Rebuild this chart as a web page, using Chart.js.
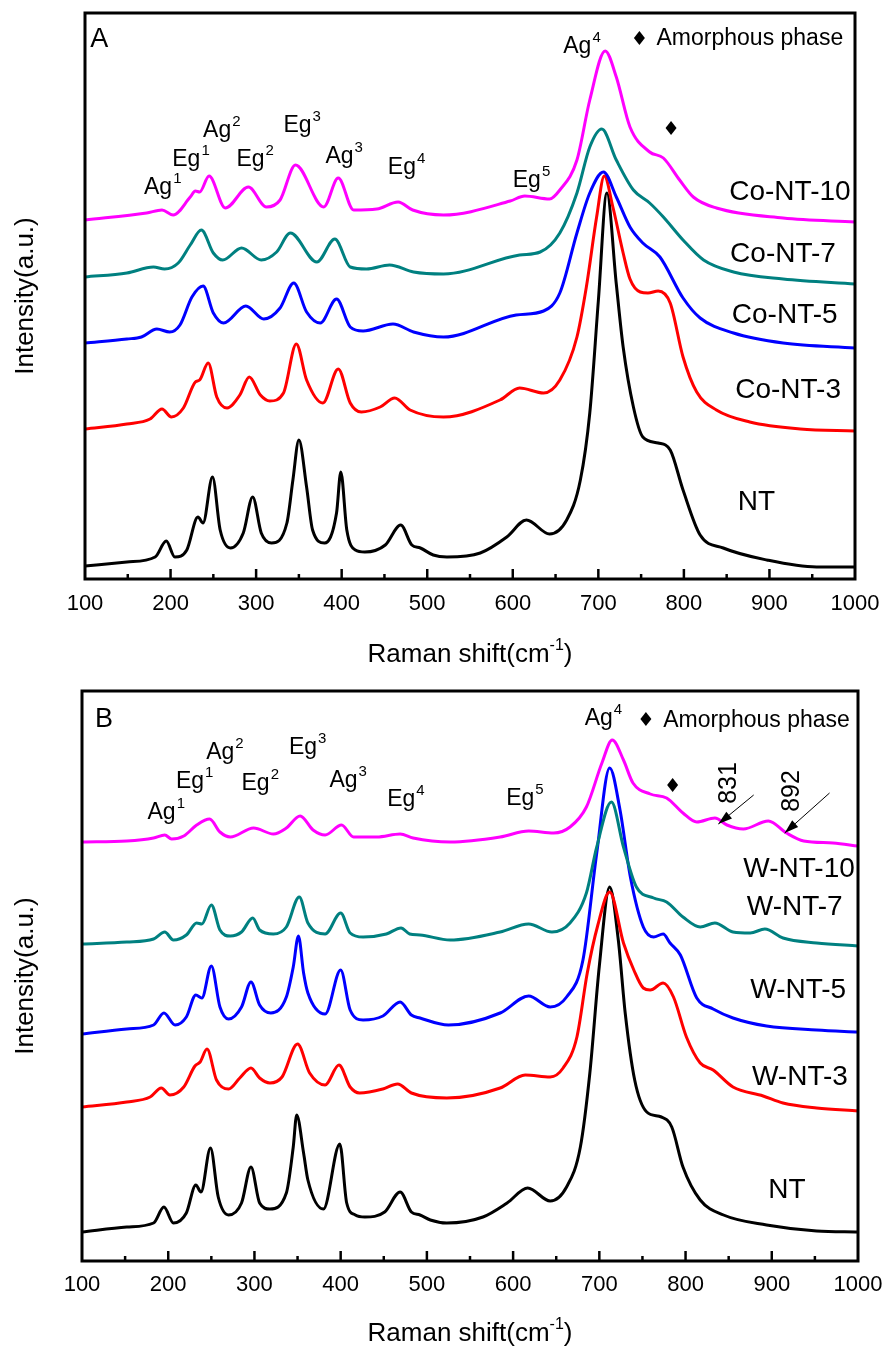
<!DOCTYPE html>
<html>
<head>
<meta charset="utf-8">
<script src="https://cdn.jsdelivr.net/npm/chart.js@4.4.0/dist/chart.umd.min.js"></script>
<style>
  body { margin: 0; background: #fff; }
  .panel { position: absolute; left: 0; width: 887px; height: 674px; }
</style>
</head>
<body>
<div class="panel" style="top:0"><canvas id="chartA" width="887" height="674"></canvas></div>
<div class="panel" style="top:674px"><canvas id="chartB" width="887" height="674"></canvas></div>
<script>
// Raman shift (cm-1) vs intensity (a.u., stacked offsets as drawn)

// panel A
const ntA = [[100,13],[149,17],[182,22],[195,38],[205,22],[219,29],[232,62],[238,56],[249,102],[258,49],[270,31],[285,46],[296,82],[306,46],[318,36],[336,56],[343,99],[350,139],[359,92],[366,49],[380,36],[394,66],[399,107],[406,49],[416,29],[427,27],[451,34],[469,54],[482,34],[492,31],[507,24],[523,22],[562,26],[593,42],[616,59],[643,45],[663,59],[679,99],[690,166],[700,278],[710,386],[721,295],[729,232],[741,172],[752,142],[770,136],[784,129],[799,89],[819,44],[846,31],[897,19],[955,12],[1000,12]];
const coNT3 = [[100,150],[149,155],[176,160],[190,170],[201,162],[215,171],[229,197],[234,199],[244,216],[254,182],[266,171],[281,184],[292,202],[305,184],[316,178],[332,186],[347,235],[359,199],[378,176],[396,210],[410,176],[423,167],[445,172],[462,181],[480,169],[519,162],[585,179],[608,191],[636,186],[655,199],[675,242],[686,292],[698,362],[707,403],[717,372],[729,326],[737,300],[749,287],[758,286],[770,288],[784,276],[799,222],[815,187],[838,169],[877,157],[936,150],[1000,148]];
const coNT5 = [[100,236],[149,240],[166,242],[184,250],[199,247],[211,254],[225,282],[238,293],[250,266],[262,256],[288,273],[309,260],[328,271],[344,296],[359,267],[375,256],[394,280],[410,252],[425,248],[460,255],[484,247],[519,242],[604,264],[636,268],[655,286],[675,346],[690,386],[706,407],[721,382],[737,352],[752,336],[772,322],[799,281],[819,261],[858,246],[916,236],[1000,231]];
const coNT7 = [[100,302],[149,306],[180,312],[193,310],[209,316],[223,334],[236,349],[250,326],[261,319],[283,331],[306,319],[324,327],[340,346],[371,317],[392,340],[410,312],[429,310],[456,314],[484,307],[519,305],[608,324],[632,327],[655,346],[675,386],[690,432],[704,450],[721,419],[741,389],[760,376],[776,362],[799,339],[823,319],[858,307],[916,300],[1000,295]];
const coNT10 = [[100,359],[172,366],[190,369],[203,364],[223,382],[229,388],[234,387],[245,403],[264,371],[291,392],[312,372],[328,379],[346,414],[379,372],[396,401],[414,369],[441,370],[466,377],[483,369],[519,364],[597,378],[614,383],[643,380],[655,389],[675,419],[690,479],[708,528],[721,502],[737,452],[760,427],[776,421],[795,399],[811,382],[838,371],[916,361],[1000,357]];

// panel B
const ntB = [[100,29],[152,34],[183,38],[195,54],[206,38],[221,48],[232,76],[238,69],[249,113],[258,64],[270,46],[285,58],[296,94],[306,58],[318,52],[337,68],[345,114],[349,146],[357,108],[362,81],[380,52],[399,117],[407,58],[417,46],[428,44],[451,49],[469,69],[482,49],[492,46],[504,41],[523,38],[565,44],[593,58],[617,73],[643,60],[662,74],[678,114],[689,188],[700,295],[712,374],[722,321],[730,248],[741,181],[755,149],[772,144],[784,134],[797,94],[817,61],[844,46],[894,36],[952,30],[1000,29]];
const wNT3 = [[100,154],[152,159],[179,164],[192,173],[202,166],[218,174],[231,195],[237,199],[245,212],[256,181],[270,172],[283,183],[296,193],[306,183],[318,178],[332,184],[350,217],[364,188],[382,176],[398,196],[411,174],[422,168],[449,172],[466,177],[482,168],[523,163],[585,173],[614,186],[643,184],[658,193],[674,224],[686,288],[698,335],[712,369],[728,318],[740,291],[751,273],[759,271],[774,278],[786,264],[801,224],[817,198],[832,191],[855,174],[890,165],[913,158],[952,153],[1000,150]];
const wNT5 = [[100,227],[152,232],[183,236],[195,248],[208,236],[221,244],[232,266],[239,263],[250,295],[260,254],[270,242],[285,254],[296,279],[306,256],[319,248],[337,264],[345,294],[351,325],[357,288],[362,268],[382,247],[400,291],[411,251],[426,241],[449,245],[469,259],[482,246],[492,243],[525,236],[585,248],[618,265],[643,254],[662,264],[681,301],[697,408],[712,493],[724,451],[736,384],[751,334],[763,324],[774,327],[782,318],[794,306],[813,263],[832,252],[855,243],[894,235],[952,231],[1000,229]];
const wNT7 = [[100,317],[152,319],[183,322],[196,329],[206,321],[221,326],[233,338],[239,337],[250,356],[260,331],[272,325],[285,329],[298,343],[306,331],[322,327],[337,334],[352,364],[362,338],[382,327],[400,348],[411,328],[426,324],[453,327],[470,333],[480,327],[492,326],[527,321],[585,329],[618,337],[645,329],[666,338],[685,368],[697,414],[714,459],[728,414],[743,374],[763,363],[778,359],[797,344],[817,334],[834,338],[855,329],[875,328],[892,332],[913,323],[952,318],[1000,315]];
const wNT10 = [[100,419],[152,420],[183,423],[196,426],[204,422],[218,425],[233,436],[248,442],[260,429],[272,424],[299,433],[322,427],[337,433],[353,445],[368,431],[382,426],[401,436],[415,424],[442,424],[469,427],[484,423],[527,419],[585,424],[618,430],[647,428],[666,434],[685,454],[703,498],[715,521],[728,501],[739,478],[759,467],[778,463],[797,448],[813,439],[834,443],[848,436],[867,432],[896,440],[917,428],[937,420],[971,418],[1000,415]];

const xTicks = [100, 200, 300, 400, 500, 600, 700, 800, 900, 1000];

// peak labels: [base, superscript, x, y]
const modesA = [["Ag","1",169,385],["Eg","1",202,413],["Ag","2",238,442],["Eg","2",277,413],["Eg","3",332,447],["Ag","3",381,416],["Eg","4",454,405],["Eg","5",600,392],["Ag","4",659,526]];
const modesB = [["Ag","1",176,442],["Eg","1",209,473],["Ag","2",244,502],["Eg","2",285,471],["Eg","3",340,507],["Ag","3",387,474],["Eg","4",454,455],["Eg","5",592,456],["Ag","4",683,536]];
const namesA = [["Co-NT-10",853,379],["Co-NT-7",854,317],["Co-NT-5",856,256],["Co-NT-3",860,181],["NT",863,69]];
const namesB = [["W-NT-10",867,384],["W-NT-7",871,346],["W-NT-5",875,263],["W-NT-3",877,176],["NT",896,63]];

const FONT = "'Liberation Sans', Arial, sans-serif";
const COLORS = ["#ff00ff", "#008080", "#0000ff", "#ff0000", "#000000"];

const decor = {
  id: "decor",
  afterDatasetsDraw(chart, args, o) {
    const { ctx, chartArea: a, scales: { x, y } } = chart;
    const px = v => x.getPixelForValue(v);
    const py = v => y.getPixelForValue(v);
    ctx.save();
    ctx.fillStyle = "#000";
    ctx.strokeStyle = "#000";

    // frame + inward ticks
    ctx.lineWidth = 3;
    ctx.strokeRect(a.left, a.top, a.right - a.left, a.bottom - a.top);
    ctx.lineWidth = 2.5;
    for (let v = 150; v < 1000; v += 50) {
      const len = v % 100 === 0 ? 10 : 5;
      ctx.beginPath();
      ctx.moveTo(px(v), a.bottom);
      ctx.lineTo(px(v), a.bottom - len);
      ctx.stroke();
    }

    ctx.textAlign = "left";
    ctx.textBaseline = "alphabetic";

    // peak labels with superscripts
    o.modes.forEach(([b, s, vx, vy]) => {
      ctx.font = "23px " + FONT;
      ctx.fillText(b, px(vx), py(vy));
      const w = ctx.measureText(b).width;
      ctx.font = "15px " + FONT;
      ctx.fillText(s, px(vx) + w + 1, py(vy) - 11);
    });

    // sample names
    ctx.font = "28px " + FONT;
    o.names.forEach(([t, vx, vy]) => ctx.fillText(t, px(vx), py(vy)));

    // panel letter
    ctx.font = "27px " + FONT;
    ctx.fillText(o.letter[0], px(o.letter[1]), py(o.letter[2]));

    // amorphous legend + marker
    const diamond = (cx, cy) => {
      ctx.beginPath();
      ctx.moveTo(cx, cy - 7); ctx.lineTo(cx + 5.5, cy);
      ctx.lineTo(cx, cy + 7); ctx.lineTo(cx - 5.5, cy);
      ctx.closePath(); ctx.fill();
    };
    diamond(px(o.legend[0]), py(o.legend[1]));
    ctx.font = "23px " + FONT;
    ctx.fillText("Amorphous phase", px(o.legend[2]), py(o.legend[3]));
    diamond(px(o.marker[0]), py(o.marker[1]));

    // arrows with rotated numbers (panel B)
    (o.arrows || []).forEach(([t, tx, ty, x0, y0, x1, y1]) => {
      const ax = px(x0), ay = py(y0), bx = px(x1), by = py(y1);
      ctx.lineWidth = 1;
      ctx.beginPath(); ctx.moveTo(ax, ay); ctx.lineTo(bx, by); ctx.stroke();
      const ang = Math.atan2(by - ay, bx - ax);
      ctx.save();
      ctx.translate(bx, by); ctx.rotate(ang);
      ctx.beginPath(); ctx.moveTo(0, 0); ctx.lineTo(-14, -4.5); ctx.lineTo(-14, 4.5);
      ctx.closePath(); ctx.fill();
      ctx.restore();
      ctx.save();
      ctx.translate(px(tx), py(ty)); ctx.rotate(-Math.PI / 2);
      ctx.font = "25px " + FONT;
      ctx.textAlign = "center"; ctx.textBaseline = "middle";
      ctx.fillText(t, 0, 0);
      ctx.restore();
    });

    // x title with superscript
    const cx = (a.left + a.right) / 2;
    ctx.font = "26px " + FONT;
    const t1 = "Raman shift(cm", t3 = ")";
    const w1 = ctx.measureText(t1).width, w3 = ctx.measureText(t3).width;
    ctx.font = "16px " + FONT;
    const w2 = ctx.measureText("-1").width;
    let sx = cx - (w1 + w2 + w3) / 2;
    ctx.font = "26px " + FONT;
    ctx.fillText(t1, sx, o.titleY);
    ctx.font = "16px " + FONT;
    ctx.fillText("-1", sx + w1, o.titleY - 12);
    ctx.font = "26px " + FONT;
    ctx.fillText(t3, sx + w1 + w2, o.titleY);

    // y title
    ctx.save();
    ctx.translate(26, (a.top + a.bottom) / 2);
    ctx.rotate(-Math.PI / 2);
    ctx.textAlign = "center"; ctx.textBaseline = "middle";
    ctx.fillText("Intensity(a.u.)", 0, 0);
    ctx.restore();

    ctx.restore();
  }
};

function makeChart(id, series, cfg) {
  const datasets = series.map((s, i) => ({
    data: s.map(([x, y]) => ({ x, y })),
    borderColor: COLORS[i],
    borderWidth: 3,
    pointRadius: 0,
    fill: false,
    cubicInterpolationMode: "monotone"
  }));
  return new Chart(document.getElementById(id), {
    type: "line",
    data: { datasets },
    options: {
      responsive: false,
      animation: false,
      events: [],
      layout: { padding: { left: 0, right: cfg.padRight, top: cfg.padTop, bottom: 0 } },
      plugins: { legend: { display: false }, tooltip: { enabled: false }, decor: cfg.decor },
      scales: {
        x: {
          type: "linear", min: 100, max: 1000,
          afterBuildTicks: s => { s.ticks = xTicks.map(v => ({ value: v })); },
          ticks: {
            color: "#000", font: { family: FONT, size: 22 }, padding: cfg.tickPad,
            maxRotation: 0, autoSkip: false, callback: v => String(v)
          },
          grid: { display: false, drawTicks: false },
          border: { display: false },
          afterFit: s => { s.height = cfg.xHeight; s.paddingLeft = 0; s.paddingRight = 0; }
        },
        y: {
          min: 0, max: cfg.yMax,
          ticks: { display: false },
          grid: { display: false, drawTicks: false },
          border: { display: false },
          afterFit: s => { s.width = cfg.yWidth; }
        }
      }
    },
    plugins: [decor]
  });
}

makeChart("chartA", [coNT10, coNT7, coNT5, coNT3, ntA], {
  padRight: 32, padTop: 13, xHeight: 95, yWidth: 85, yMax: 566, tickPad: 12,
  decor: {
    modes: modesA, names: namesA, letter: ["A", 106, 532],
    legend: [748, 541, 768, 534], marker: [785, 451],
    titleY: 662
  }
});

makeChart("chartB", [wNT10, wNT7, wNT5, wNT3, ntB], {
  padRight: 29, padTop: 17, xHeight: 87, yWidth: 82, yMax: 570, tickPad: 11,
  decor: {
    modes: modesB, names: namesB, letter: ["B", 115, 534],
    legend: [754, 542, 774, 534], marker: [785, 476],
    arrows: [["831", 850, 478, 879, 466, 838, 437], ["892", 924, 470, 967, 468, 915, 428]],
    titleY: 667
  }
});
</script>
</body>
</html>
